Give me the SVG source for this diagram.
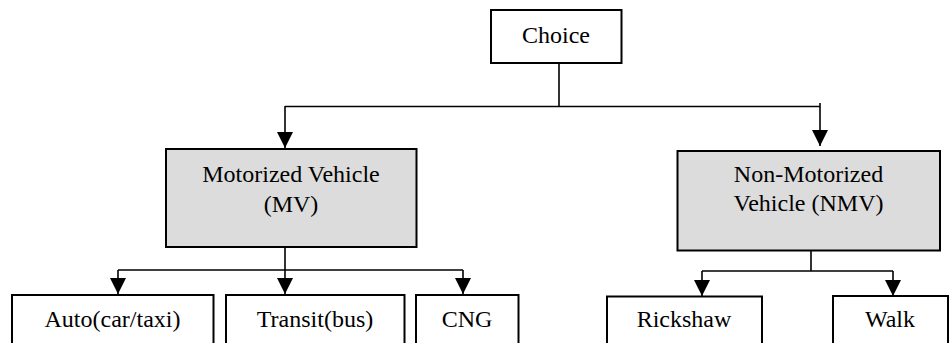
<svg xmlns="http://www.w3.org/2000/svg" width="951" height="343" viewBox="0 0 951 343">
<style>
.box{fill:#ffffff;stroke:#000;stroke-width:2}
.grey{fill:#dcdcdc;stroke:#000;stroke-width:2}
text{font-family:'Liberation Serif','Times New Roman',Times,serif;font-size:24px;fill:#000;text-anchor:middle}
.ln{fill:none;stroke:#000;stroke-width:1.6}
.ar{fill:none;stroke:#000;stroke-width:1.6;marker-end:url(#ah)}
</style>
<defs>
<marker id="ah" markerUnits="userSpaceOnUse" markerWidth="17" markerHeight="17" viewBox="0 0 17 17" refX="16" refY="8.5" orient="auto">
<path d="M0,0.5 L16,8.5 L0,16.5 Z" fill="#000"/>
</marker>
</defs>
<rect width="951" height="343" fill="#fff"/>
<g id="connectors">
<path class="ln" d="M559,63 V106.5 M285,106.5 H820"/>
<path class="ar" d="M285,106 V148"/>
<path class="ar" d="M820,103 V146"/>
<path class="ln" d="M285,247 V270 M118,270 H463"/>
<path class="ar" d="M118,270 V294"/>
<path class="ar" d="M285,270 V294"/>
<path class="ar" d="M463,270 V294"/>
<path class="ln" d="M811,250 V271 M702,271 H893"/>
<path class="ar" d="M702,271 V296"/>
<path class="ar" d="M893,271 V296"/>
</g>
<g id="choice">
<rect class="box" x="491" y="10" width="130.5" height="53"/>
<text x="556" y="43">Choice</text>
</g>
<g id="mv">
<rect class="grey" x="166" y="149" width="250.5" height="98"/>
<text x="291" y="182">Motorized Vehicle</text>
<text x="291" y="211.5">(MV)</text>
</g>
<g id="nmv">
<rect class="grey" x="677.5" y="151" width="262.5" height="99.5"/>
<text x="808.5" y="182">Non-Motorized</text>
<text x="808.5" y="210.5">Vehicle (NMV)</text>
</g>
<g id="auto">
<rect class="box" x="12" y="295" width="201.5" height="60"/>
<text x="112.5" y="327">Auto(car/taxi)</text>
</g>
<g id="transit">
<rect class="box" x="226" y="295" width="178.5" height="60"/>
<text x="315" y="327">Transit(bus)</text>
</g>
<g id="cng">
<rect class="box" x="416" y="295" width="102.5" height="60"/>
<text x="467" y="327">CNG</text>
</g>
<g id="rickshaw">
<rect class="box" x="607" y="296.5" width="155" height="60"/>
<text x="684" y="327">Rickshaw</text>
</g>
<g id="walk">
<rect class="box" x="833" y="296" width="115" height="60"/>
<text x="890" y="327">Walk</text>
</g>
</svg>
